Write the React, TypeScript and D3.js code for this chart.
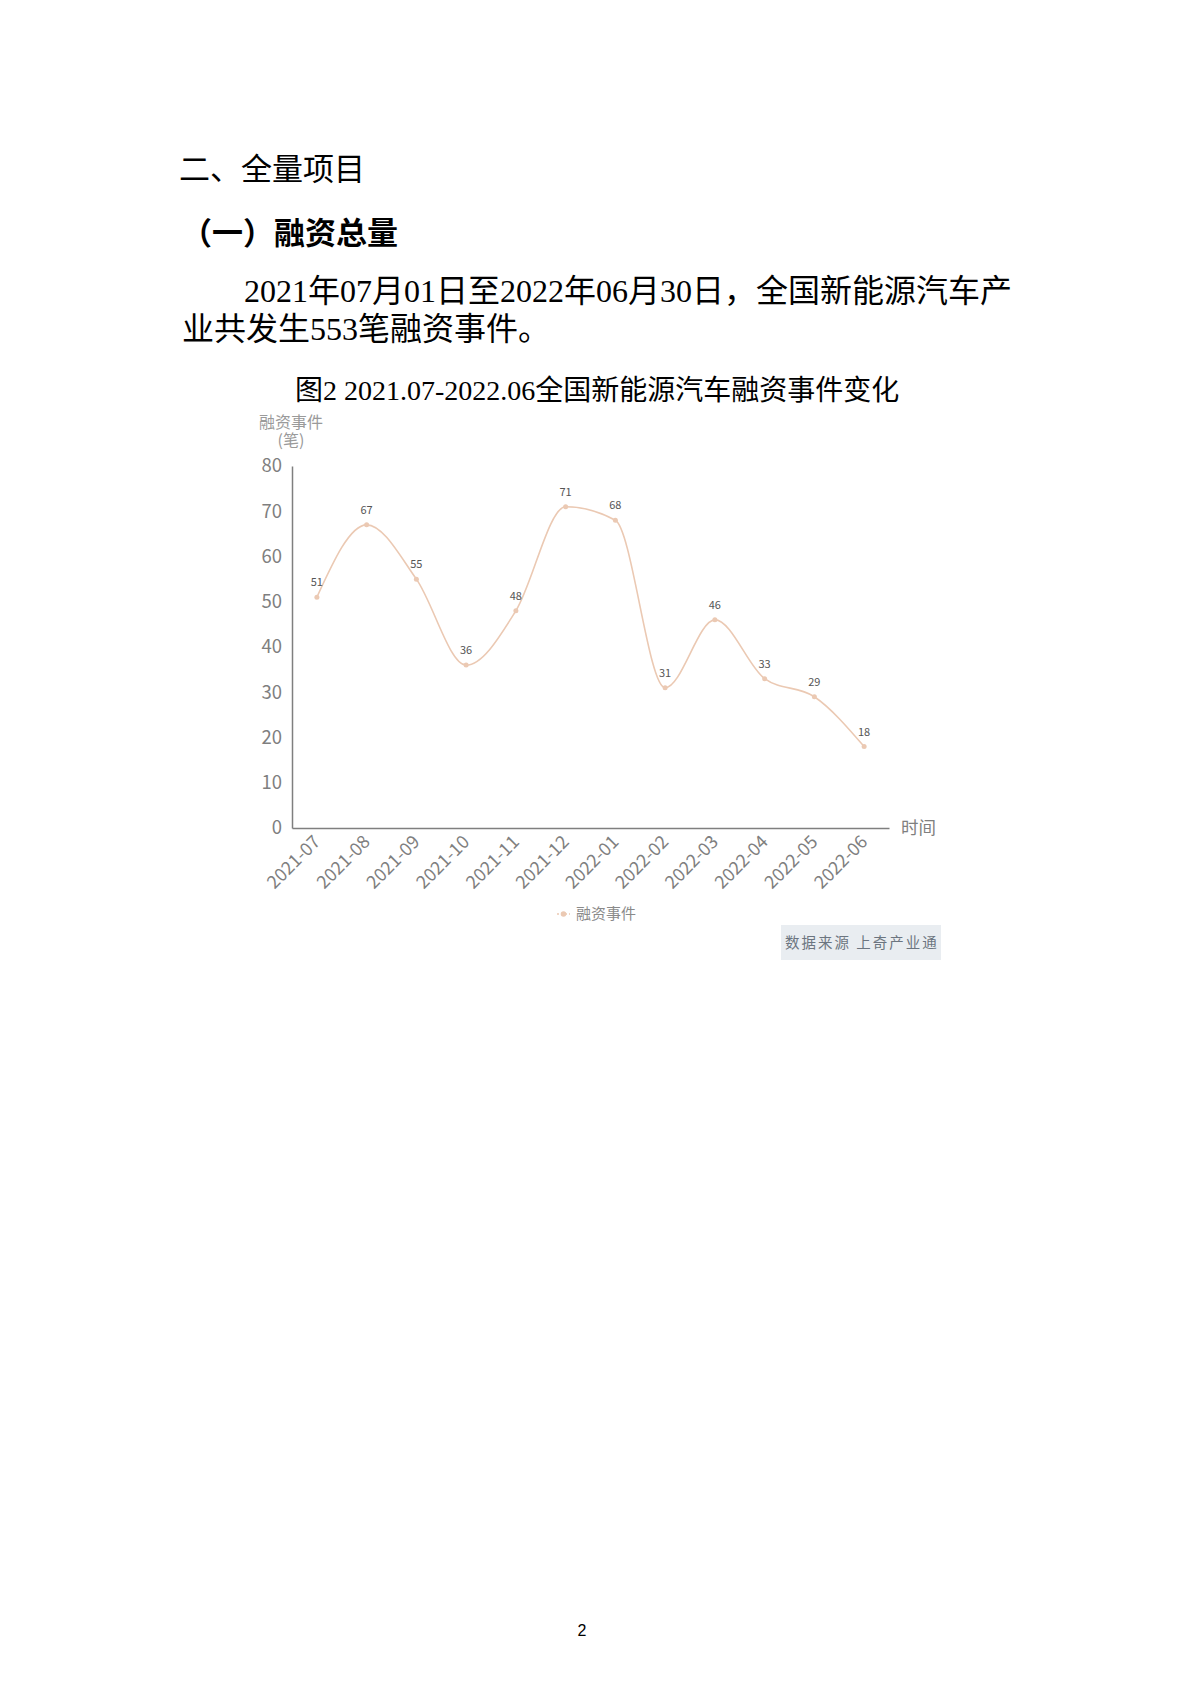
import * as d3 from 'd3';
import { useEffect, useRef } from 'react';

// 2021.07 - 2022.06 financing events per month
const months = [
  '2021-07', '2021-08', '2021-09', '2021-10', '2021-11', '2021-12',
  '2022-01', '2022-02', '2022-03', '2022-04', '2022-05', '2022-06',
];
const events = [51, 67, 55, 36, 48, 71, 68, 31, 46, 33, 29, 18];
const yTicks = [0, 10, 20, 30, 40, 50, 60, 70, 80];

const CJK = '"Noto Sans CJK SC", "Noto Sans", sans-serif';
const MIXED = '"Liberation Serif", "Noto Sans CJK SC", serif';
const LINE_COLOR = '#ebc9b3';
const AXIS_COLOR = '#7f7f7f';

const App: React.FC = () => {
  const chartRef = useRef<SVGGElement>(null);

  useEffect(() => {
    const g = d3.select(chartRef.current);
    g.selectAll('*').remove();

    const x = d3.scalePoint<string>().domain(months).range([292, 889]).padding(0.5);
    const y = d3.scaleLinear().domain([0, 80]).range([828, 466]);

    // y axis
    const yAxis = g
      .append('g')
      .attr('transform', 'translate(292,0)')
      .call(d3.axisLeft(y).tickValues(yTicks).tickSize(0).tickSizeOuter(0).tickPadding(10));
    yAxis.select('.domain').attr('stroke', AXIS_COLOR).attr('stroke-width', 1.5);
    yAxis
      .selectAll('text')
      .attr('fill', AXIS_COLOR)
      .style('font-size', '18.5px')
      .style('font-family', CJK);

    // x axis
    const xAxis = g
      .append('g')
      .attr('transform', 'translate(0,828)')
      .call(d3.axisBottom(x).tickSize(0).tickSizeOuter(0));
    xAxis.select('.domain').attr('stroke', AXIS_COLOR).attr('stroke-width', 1.5);
    xAxis
      .selectAll('text')
      .attr('fill', AXIS_COLOR)
      .attr('text-anchor', 'end')
      .attr('dy', 0)
      .attr('y', 0)
      .attr('transform', 'translate(4,15) rotate(-45)')
      .style('font-size', '18px')
      .style('font-family', CJK);

    g.append('text')
      .attr('x', 901)
      .attr('y', 834)
      .attr('fill', AXIS_COLOR)
      .style('font-size', '17.5px')
      .style('font-family', CJK)
      .text('时间');

    // y axis title, two lines
    ['融资事件', '(笔)'].forEach((t, i) => {
      g.append('text')
        .attr('x', 291)
        .attr('y', 428 + i * 18)
        .attr('text-anchor', 'middle')
        .attr('fill', '#9a9a9a')
        .style('font-size', '16px')
        .style('font-family', CJK)
        .text(t);
    });

    // line
    const line = d3
      .line<number>()
      .x((_, i) => x(months[i]) as number)
      .y((d) => y(d))
      .curve(d3.curveMonotoneX);

    g.append('path')
      .datum(events)
      .attr('d', line)
      .attr('fill', 'none')
      .attr('stroke', LINE_COLOR)
      .attr('stroke-width', 1.6);

    g.selectAll('.dot')
      .data(events)
      .enter()
      .append('circle')
      .attr('class', 'dot')
      .attr('cx', (_, i) => x(months[i]) as number)
      .attr('cy', (d) => y(d))
      .attr('r', 2.5)
      .attr('fill', LINE_COLOR);

    g.selectAll('.lbl')
      .data(events)
      .enter()
      .append('text')
      .attr('class', 'lbl')
      .attr('x', (_, i) => x(months[i]) as number)
      .attr('y', (d) => y(d) - 11)
      .attr('text-anchor', 'middle')
      .attr('fill', '#555')
      .style('font-size', '11px')
      .style('font-family', CJK)
      .text((d) => d);

    // legend
    const lg = g.append('g').attr('transform', 'translate(557,914)');
    lg.append('line')
      .attr('x1', 0)
      .attr('x2', 13)
      .attr('stroke', LINE_COLOR)
      .attr('stroke-width', 1.5)
      .attr('stroke-dasharray', '2,2');
    lg.append('circle').attr('cx', 6.5).attr('r', 2.8).attr('fill', LINE_COLOR);
    lg.append('text')
      .attr('x', 19)
      .attr('dy', '0.35em')
      .attr('fill', '#8a8a8a')
      .style('font-size', '15px')
      .style('font-family', CJK)
      .text('融资事件');

    // source box
    g.append('rect')
      .attr('x', 781)
      .attr('y', 925)
      .attr('width', 160)
      .attr('height', 35)
      .attr('fill', '#e9edf1');
    g.append('text')
      .attr('x', 785)
      .attr('y', 943)
      .attr('dy', '0.35em')
      .attr('fill', '#6c7580')
      .style('font-size', '14.5px')
      .style('letter-spacing', '2px')
      .style('font-family', CJK)
      .text('数据来源 上奇产业通');
  }, []);

  return (
    <svg
      width={1190}
      height={1683}
      style={{ position: 'absolute', left: 0, top: 0, background: '#fff' }}
    >
      <text x={179} y={180} fontSize={31} fontFamily={CJK} fill="#000">
        二、全量项目
      </text>
      <text x={181} y={244} fontSize={31} fontWeight="bold" fontFamily={CJK} fill="#000">
        （一）融资总量
      </text>
      <text x={244} y={302} fontSize={32} fontFamily={MIXED} fill="#000">
        2021年07月01日至2022年06月30日，全国新能源汽车产
      </text>
      <text x={182} y={340} fontSize={32} fontFamily={MIXED} fill="#000">
        业共发生553笔融资事件。
      </text>
      <text x={295} y={400} fontSize={28} fontFamily={MIXED} fill="#000">
        图2 2021.07-2022.06全国新能源汽车融资事件变化
      </text>
      <g ref={chartRef} />
      <text x={582} y={1636} fontSize={16} textAnchor="middle" fontFamily='"Liberation Sans", sans-serif' fill="#000">
        2
      </text>
    </svg>
  );
};

export default App;
